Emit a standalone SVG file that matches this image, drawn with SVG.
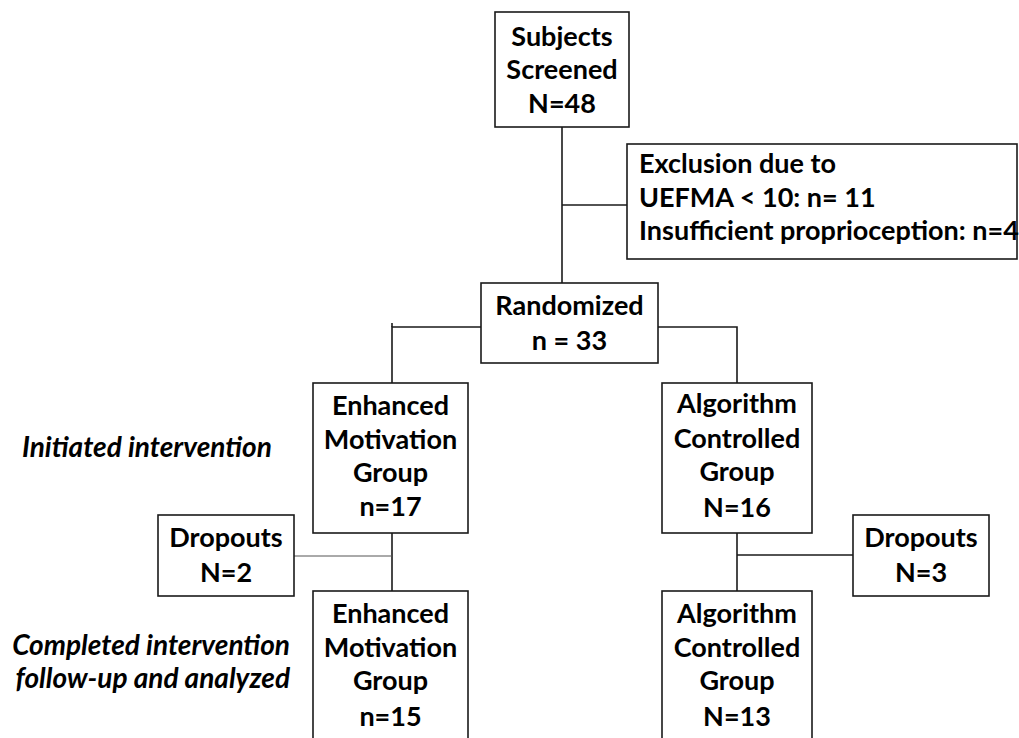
<svg xmlns="http://www.w3.org/2000/svg" width="1019" height="738" viewBox="0 0 1019 738">
<style>
.box{fill:#fff;stroke:#1a1a1a;stroke-width:1.6}
.ln{fill:none;stroke:#1a1a1a;stroke-width:1.6}
.thin{fill:none;stroke:#555;stroke-width:1}
text{font-family:Lato,"Liberation Sans",sans-serif;font-weight:bold;font-size:27px;fill:#000}
.c{text-anchor:middle}
.it{font-style:italic;font-size:28px}
</style>
<rect width="1019" height="738" fill="#fff"/>
<g id="connectors">
<path class="ln" d="M562 127V283"/>
<path class="ln" d="M562 205H627"/>
<path class="ln" d="M481 327H392V383"/>
<path class="ln" d="M392 323V327"/>
<path class="ln" d="M658 327H737V383"/>
<path class="ln" d="M392 533V591"/>
<path class="thin" d="M294 556H392"/>
<path class="ln" d="M737 533V591"/>
<path class="ln" d="M737 555H853"/>
</g>
<g id="screened">
<rect class="box" x="495" y="12" width="134" height="115"/>
<text class="c" x="562" y="46">Subjects</text>
<text class="c" x="562" y="79">Screened</text>
<text class="c" x="562" y="113">N=48</text>
</g>
<g id="exclusion">
<rect class="box" x="627" y="144" width="390" height="115"/>
<text x="639" y="173">Exclusion due to</text>
<text x="639" y="207">UEFMA &lt; 10: n= 11</text>
<text x="639" y="240">Insufficient proprioception: n=4</text>
</g>
<g id="randomized">
<rect class="box" x="481" y="283" width="177" height="80"/>
<text class="c" x="569.5" y="315">Randomized</text>
<text class="c" x="569.5" y="350">n = 33</text>
</g>
<g id="label-initiated">
<text class="it" x="22" y="457">Initiated intervention</text>
</g>
<g id="emg-initial">
<rect class="box" x="313" y="383" width="155" height="150"/>
<text class="c" x="390.5" y="415">Enhanced</text>
<text class="c" x="390.5" y="449">Motivation</text>
<text class="c" x="390.5" y="482">Group</text>
<text class="c" x="390.5" y="516">n=17</text>
</g>
<g id="acg-initial">
<rect class="box" x="662" y="383" width="150" height="150"/>
<text class="c" x="737" y="413">Algorithm</text>
<text class="c" x="737" y="448">Controlled</text>
<text class="c" x="737" y="481">Group</text>
<text class="c" x="737" y="517">N=16</text>
</g>
<g id="dropouts-left">
<rect class="box" x="158" y="515" width="136" height="81"/>
<text class="c" x="226" y="547">Dropouts</text>
<text class="c" x="226" y="582">N=2</text>
</g>
<g id="dropouts-right">
<rect class="box" x="853" y="515" width="136" height="81"/>
<text class="c" x="921" y="547">Dropouts</text>
<text class="c" x="921" y="582">N=3</text>
</g>
<g id="label-completed">
<text class="it" x="290" y="655" text-anchor="end">Completed intervention</text>
<text class="it" x="290" y="688" text-anchor="end">follow-up and analyzed</text>
</g>
<g id="emg-final">
<rect class="box" x="313" y="591" width="155" height="160"/>
<text class="c" x="390.5" y="623">Enhanced</text>
<text class="c" x="390.5" y="657">Motivation</text>
<text class="c" x="390.5" y="690">Group</text>
<text class="c" x="390.5" y="726">n=15</text>
</g>
<g id="acg-final">
<rect class="box" x="662" y="591" width="150" height="160"/>
<text class="c" x="737" y="623">Algorithm</text>
<text class="c" x="737" y="657">Controlled</text>
<text class="c" x="737" y="690">Group</text>
<text class="c" x="737" y="726">N=13</text>
</g>
</svg>
